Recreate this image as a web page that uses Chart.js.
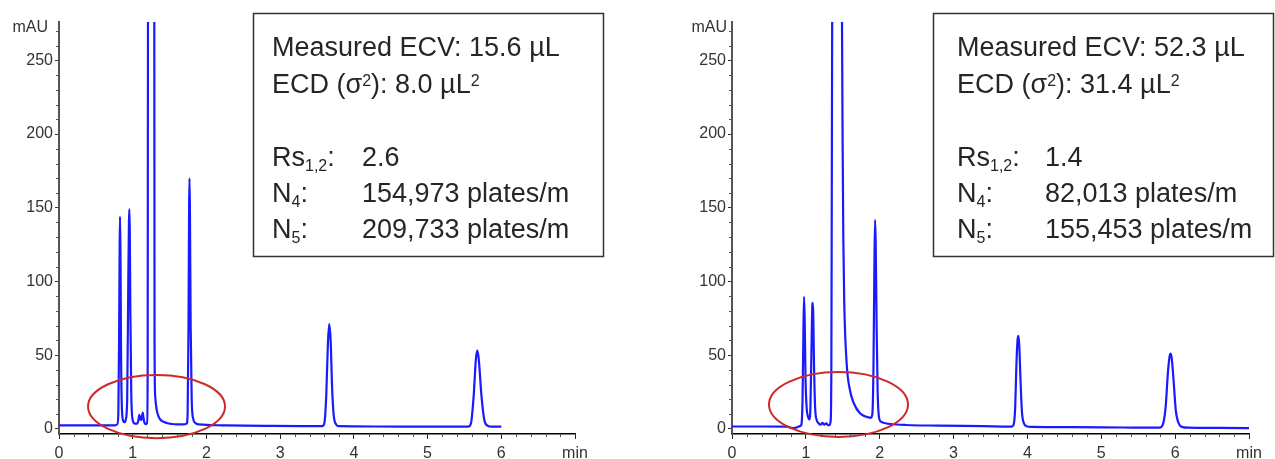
<!DOCTYPE html>
<html><head><meta charset="utf-8">
<script src="https://cdn.jsdelivr.net/npm/chart.js@4.4.1/dist/chart.umd.min.js"></script>
<style>
html,body{margin:0;padding:0;background:#fff;overflow:hidden}
#wrap{position:relative;width:1275px;height:459px}
canvas{position:absolute;top:0}
</style></head><body>
<div id="wrap">
<canvas id="cA" width="640" height="459" style="left:0px"></canvas>
<canvas id="cB" width="635" height="459" style="left:640px"></canvas>
</div>
<script>
// ---- Data: left chromatogram (ECV 15.6 µL) ----
const timeA = [0, 0.30, 0.60, 0.76, 0.790, 0.805, 0.815, 0.823, 0.828, 0.834, 0.842, 0.855, 0.875, 0.890, 0.905, 0.925, 0.940, 0.949, 0.954, 0.960, 0.968, 0.980, 1.000, 1.030, 1.060, 1.078, 1.090, 1.102, 1.117, 1.128, 1.136, 1.145, 1.160, 1.180, 1.195, 1.203, 1.210, 1.250, 1.290, 1.296, 1.305, 1.325, 1.350, 1.380, 1.420, 1.470, 1.530, 1.600, 1.690, 1.730, 1.745, 1.757, 1.765, 1.770, 1.776, 1.786, 1.800, 1.820, 1.850, 1.900, 2.200, 2.800, 3.300, 3.570, 3.600, 3.625, 3.648, 3.665, 3.685, 3.705, 3.725, 3.760, 3.800, 4.300, 5.000, 5.550, 5.590, 5.625, 5.655, 5.675, 5.695, 5.730, 5.770, 5.820, 5.860, 6.000];
const signalA = [2.3, 2.3, 2.3, 2.4, 3.0, 10, 60, 125, 144, 120, 50, 12, 5, 4.5, 6, 20, 100, 140, 149, 135, 80, 25, 6, 3.5, 3.5, 6, 9.5, 7, 6, 9, 11, 8, 4, 3.2, 4, 40, 500, 1500, 500, 60, 22, 13, 8.5, 6, 4.8, 3.8, 3.3, 3, 3, 3.5, 10, 70, 150, 170, 150, 70, 20, 7, 4, 3, 2.4, 2, 1.8, 1.8, 4, 22, 58, 71, 60, 28, 10, 3, 1.8, 1.6, 1.5, 1.5, 4, 22, 47, 53, 47, 23, 6, 2, 1.5, 1.5];

// ---- Data: right chromatogram (ECV 52.3 µL) ----
const timeB = [0, 0.40, 0.75, 0.80, 0.84, 0.88, 0.920, 0.940, 0.955, 0.968, 0.976, 0.984, 0.995, 1.010, 1.030, 1.047, 1.062, 1.078, 1.088, 1.093, 1.100, 1.110, 1.125, 1.147, 1.170, 1.200, 1.225, 1.250, 1.275, 1.300, 1.320, 1.335, 1.345, 1.352, 1.360, 1.420, 1.470, 1.488, 1.497, 1.507, 1.520, 1.553, 1.598, 1.652, 1.733, 1.800, 1.845, 1.880, 1.900, 1.915, 1.928, 1.937, 1.946, 1.958, 1.972, 1.990, 2.020, 2.080, 2.140, 2.360, 2.800, 3.400, 3.780, 3.810, 3.832, 3.852, 3.866, 3.878, 3.890, 3.905, 3.925, 3.950, 3.990, 4.050, 4.600, 5.300, 5.780, 5.830, 5.870, 5.905, 5.928, 5.942, 5.958, 5.980, 6.010, 6.050, 6.100, 6.180, 6.600, 7.000];
const signalB = [1.6, 1.6, 1.5, 0.6, 0.5, 1.0, 1.8, 3, 20, 70, 89.6, 75, 35, 15, 8, 6.4, 15, 60, 84, 85.5, 78, 45, 15, 6, 4, 2.8, 4, 2.8, 3.8, 2.5, 2.5, 5, 40, 180, 350, 700, 500, 290, 200, 130, 85, 44, 26, 17, 10.5, 8.5, 7.8, 7.5, 10, 40, 110, 141.7, 125, 70, 25, 8, 4.8, 3.8, 3.3, 2.6, 2.2, 1.8, 1.5, 2.5, 12, 45, 60, 63, 56, 35, 12, 4, 1.8, 1.3, 1.1, 0.9, 0.8, 2.5, 14, 40, 50, 51, 46, 32, 12, 3.5, 1.2, 0.8, 0.6, 0.5];

// ---- Tick labels ----
const xTickLabels = ['0', '1', '2', '3', '4', '5', '6', 'min'];
const yTickLabels = ['0', '50', '100', '150', '200', '250'];
const yUnit = 'mAU';

// ---- Panel statistics ----
const ecvValues = ['15.6', '52.3'];
const ecdValues = ['8.0', '31.4'];
const rsValues = ['2.6', '1.4'];
const n4Values = ['154,973', '82,013'];
const n5Values = ['209,733', '155,453'];

function statLines(i) {
  return {
    head: [
      [{t: 'Measured ECV: ' + ecvValues[i] + ' µL'}],
      [{t: 'ECD (σ'}, {t: '2', sup: 1}, {t: '): ' + ecdValues[i] + ' µL'}, {t: '2', sup: 1}]
    ],
    rows: [
      [[{t: 'Rs'}, {t: '1,2', sub: 1}, {t: ':'}], rsValues[i]],
      [[{t: 'N'}, {t: '4', sub: 1}, {t: ':'}], n4Values[i] + ' plates/m'],
      [[{t: 'N'}, {t: '5', sub: 1}, {t: ':'}], n5Values[i] + ' plates/m']
    ]
  };
}

const FONT = '"Liberation Sans", Arial, sans-serif';
Chart.defaults.font.family = FONT;

function drawRich(ctx, x, y, segs, size) {
  for (const s of segs) {
    let fs = size, dy = 0;
    if (s.sub) { fs = 16; dy = 5; }
    if (s.sup) { fs = 16; dy = -7; }
    ctx.font = fs + 'px ' + FONT;
    ctx.fillText(s.t, x, y + dy);
    x += ctx.measureText(s.t).width;
  }
}

const minorTicks = {
  id: 'minorTicks',
  afterDraw(chart) {
    const {ctx, scales: {x, y}, chartArea: a} = chart;
    ctx.save();
    ctx.strokeStyle = '#555';
    ctx.lineWidth = 1;
    ctx.beginPath();
    for (let v = 10; v < 276; v += 10) {
      if (v % 50 === 0) continue;
      const py = Math.round(y.getPixelForValue(v)) + 0.5;
      ctx.moveTo(a.left - 3, py); ctx.lineTo(a.left, py);
    }
    for (let i = 1; i < 35; i++) {
      if (i % 5 === 0) continue;
      const px = Math.round(x.getPixelForValue(i * 0.2)) + 0.5;
      ctx.moveTo(px, a.bottom); ctx.lineTo(px, a.bottom + 3);
    }
    ctx.stroke();
    ctx.restore();
  }
};

const ellipsePlugin = {
  id: 'ellipseMark',
  afterDatasetsDraw(chart, args, o) {
    const {ctx, scales: {x, y}} = chart;
    const cx = x.getPixelForValue(o.cx), cy = y.getPixelForValue(o.cy);
    const rx = x.getPixelForValue(o.cx + o.rx) - cx;
    const ry = cy - y.getPixelForValue(o.cy + o.ry);
    ctx.save();
    ctx.strokeStyle = '#cc2a2a';
    ctx.lineWidth = 2;
    ctx.beginPath();
    ctx.ellipse(cx, cy, rx, ry, 0, 0, Math.PI * 2);
    ctx.stroke();
    ctx.restore();
  }
};

const statsPlugin = {
  id: 'statsBox',
  afterDraw(chart, args, o) {
    const ctx = chart.ctx;
    const [bx, by, bw, bh] = o.box;
    ctx.save();
    ctx.fillStyle = '#fff';
    ctx.fillRect(bx, by, bw, bh);
    ctx.strokeStyle = '#333';
    ctx.lineWidth = 1.5;
    ctx.strokeRect(bx, by, bw, bh);
    ctx.fillStyle = '#262626';
    ctx.textAlign = 'left';
    ctx.textBaseline = 'alphabetic';
    const L = statLines(o.idx);
    const base = [56, 93, 166, 202, 238];
    drawRich(ctx, o.labelX, base[0], L.head[0], 27);
    drawRich(ctx, o.labelX, base[1], L.head[1], 27);
    L.rows.forEach((r, k) => {
      drawRich(ctx, o.labelX, base[2 + k], r[0], 27);
      drawRich(ctx, o.valueX, base[2 + k], [{t: r[1]}], 27);
    });
    ctx.restore();
  }
};

const unitPlugin = {
  id: 'unitLabel',
  afterDraw(chart, args, o) {
    const ctx = chart.ctx;
    ctx.save();
    ctx.fillStyle = '#333';
    ctx.font = '16px ' + FONT;
    ctx.textAlign = 'right';
    ctx.textBaseline = 'middle';
    ctx.fillText(yUnit, o.x, 28);
    ctx.restore();
  }
};

function makeChart(id, time, signal, cfg) {
  const pts = time.map((t, i) => ({x: t, y: signal[i]}));
  return new Chart(document.getElementById(id), {
    type: 'line',
    data: {datasets: [{data: pts, borderColor: '#1a1aff', borderWidth: 2.2, pointRadius: 0,
      cubicInterpolationMode: 'monotone', fill: false, clip: 0, borderJoinStyle: 'round'}]},
    options: {
      responsive: false, animation: false, devicePixelRatio: 1,
      layout: {padding: {left: 0, top: 22, right: cfg.padRight, bottom: 0}},
      plugins: {
        legend: {display: false}, tooltip: {enabled: false},
        ellipseMark: cfg.ellipse,
        statsBox: cfg.stats,
        unitLabel: {x: cfg.unitX}
      },
      scales: {
        x: {
          type: 'linear', min: 0, max: 7,
          afterFit(s) { s.height = 25; },
          ticks: {stepSize: 1, autoSkip: false, maxRotation: 0, padding: 5, color: '#333', font: {size: 16},
            callback: (v) => xTickLabels[Math.round(v)]},
          grid: {drawOnChartArea: false, tickLength: 5, color: '#222', lineWidth: 1},
          border: {color: '#000', width: 1.5}
        },
        y: {
          type: 'linear', min: -3.5, max: 276,
          afterFit(s) { s.width = cfg.yWidth; },
          ticks: {stepSize: 50, includeBounds: false, padding: 2, color: '#333', font: {size: 16},
            callback: (v) => yTickLabels[Math.round(v / 50)]},
          grid: {drawOnChartArea: false, tickLength: 4, color: '#333', lineWidth: 1},
          border: {color: '#555', width: 2}
        }
      }
    },
    plugins: [minorTicks, ellipsePlugin, statsPlugin, unitPlugin]
  });
}

makeChart('cA', timeA, signalA, {
  padRight: 65, yWidth: 59, unitX: 48,
  ellipse: {cx: 1.323, cy: 15.1, rx: 0.929, ry: 21.4},
  stats: {idx: 0, box: [253.5, 13.5, 350, 243], labelX: 272, valueX: 362}
});
makeChart('cB', timeB, signalB, {
  padRight: 26, yWidth: 92, unitX: 87,
  ellipse: {cx: 1.442, cy: 16.5, rx: 0.941, ry: 22},
  stats: {idx: 1, box: [293.5, 13.5, 340, 243], labelX: 317, valueX: 405}
});
</script>
</body></html>
